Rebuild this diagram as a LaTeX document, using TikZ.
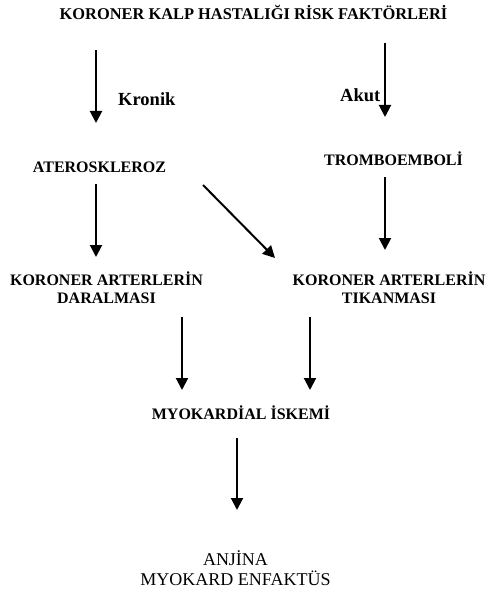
\documentclass[tikz,border=0pt]{standalone}
\usepackage{fontspec}
\setmainfont{Liberation Serif}
\usetikzlibrary{arrows.meta}
\tikzset{
  lbl/.style={inner sep=0pt, anchor=base, font=\bfseries\fontsize{16}{18}\selectfont, align=center},
  sidelbl/.style={inner sep=0pt, anchor=base west, font=\bfseries\fontsize{18.5}{20}\selectfont},
  outlbl/.style={inner sep=0pt, anchor=base, font=\fontsize{18}{20}\selectfont, align=center},
  flow/.style={line width=2pt, -{Triangle[length=12pt,width=12pt]}}
}
\begin{document}
\begin{tikzpicture}[x=1pt,y=-1pt]
\useasboundingbox (0,0) rectangle (489,591);
% texts
\node[lbl, font=\bfseries\fontsize{16.4}{18}\selectfont] (title) at (253.5,20) {KORONER KALP HASTALIĞI RİSK FAKTÖRLERİ};
\node[sidelbl] (kronik) at (118,106) {Kronik};
\node[sidelbl] (akut) at (340,102) {Akut};
\node[lbl] (ater) at (99.5,172.7) {ATEROSKLEROZ};
\node[lbl] (trombo) at (393.5,165) {TROMBOEMBOLİ};
\node[lbl] (daral) at (106.5,303) {KORONER ARTERLERİN\\DARALMASI};
\node[lbl] (tikan) at (389,303) {KORONER ARTERLERİN\\TIKANMASI};
\node[lbl] (iskemi) at (241,419) {MYOKARDİAL İSKEMİ};
\node[outlbl] (sonuc) at (235.5,585) {ANJİNA\\MYOKARD ENFAKTÜS};
% arrow ends
\coordinate (a1s) at (96,50);   \coordinate (a1e) at (96,123);
\coordinate (a2s) at (385,43);  \coordinate (a2e) at (385,117);
\coordinate (a3s) at (96,184);  \coordinate (a3e) at (96,257);
\coordinate (a4s) at (203,185); \coordinate (a4e) at (275,258);
\coordinate (a5s) at (385,177); \coordinate (a5e) at (385,250);
\coordinate (a6s) at (182,317); \coordinate (a6e) at (182,390);
\coordinate (a7s) at (310,317); \coordinate (a7e) at (310,390);
\coordinate (a8s) at (237,438); \coordinate (a8e) at (237,510);
\draw[flow] (a1s) -- (a1e);
\draw[flow] (a2s) -- (a2e);
\draw[flow] (a3s) -- (a3e);
\draw[flow] (a4s) -- (a4e);
\draw[flow] (a5s) -- (a5e);
\draw[flow] (a6s) -- (a6e);
\draw[flow] (a7s) -- (a7e);
\draw[flow] (a8s) -- (a8e);
\end{tikzpicture}
\end{document}
